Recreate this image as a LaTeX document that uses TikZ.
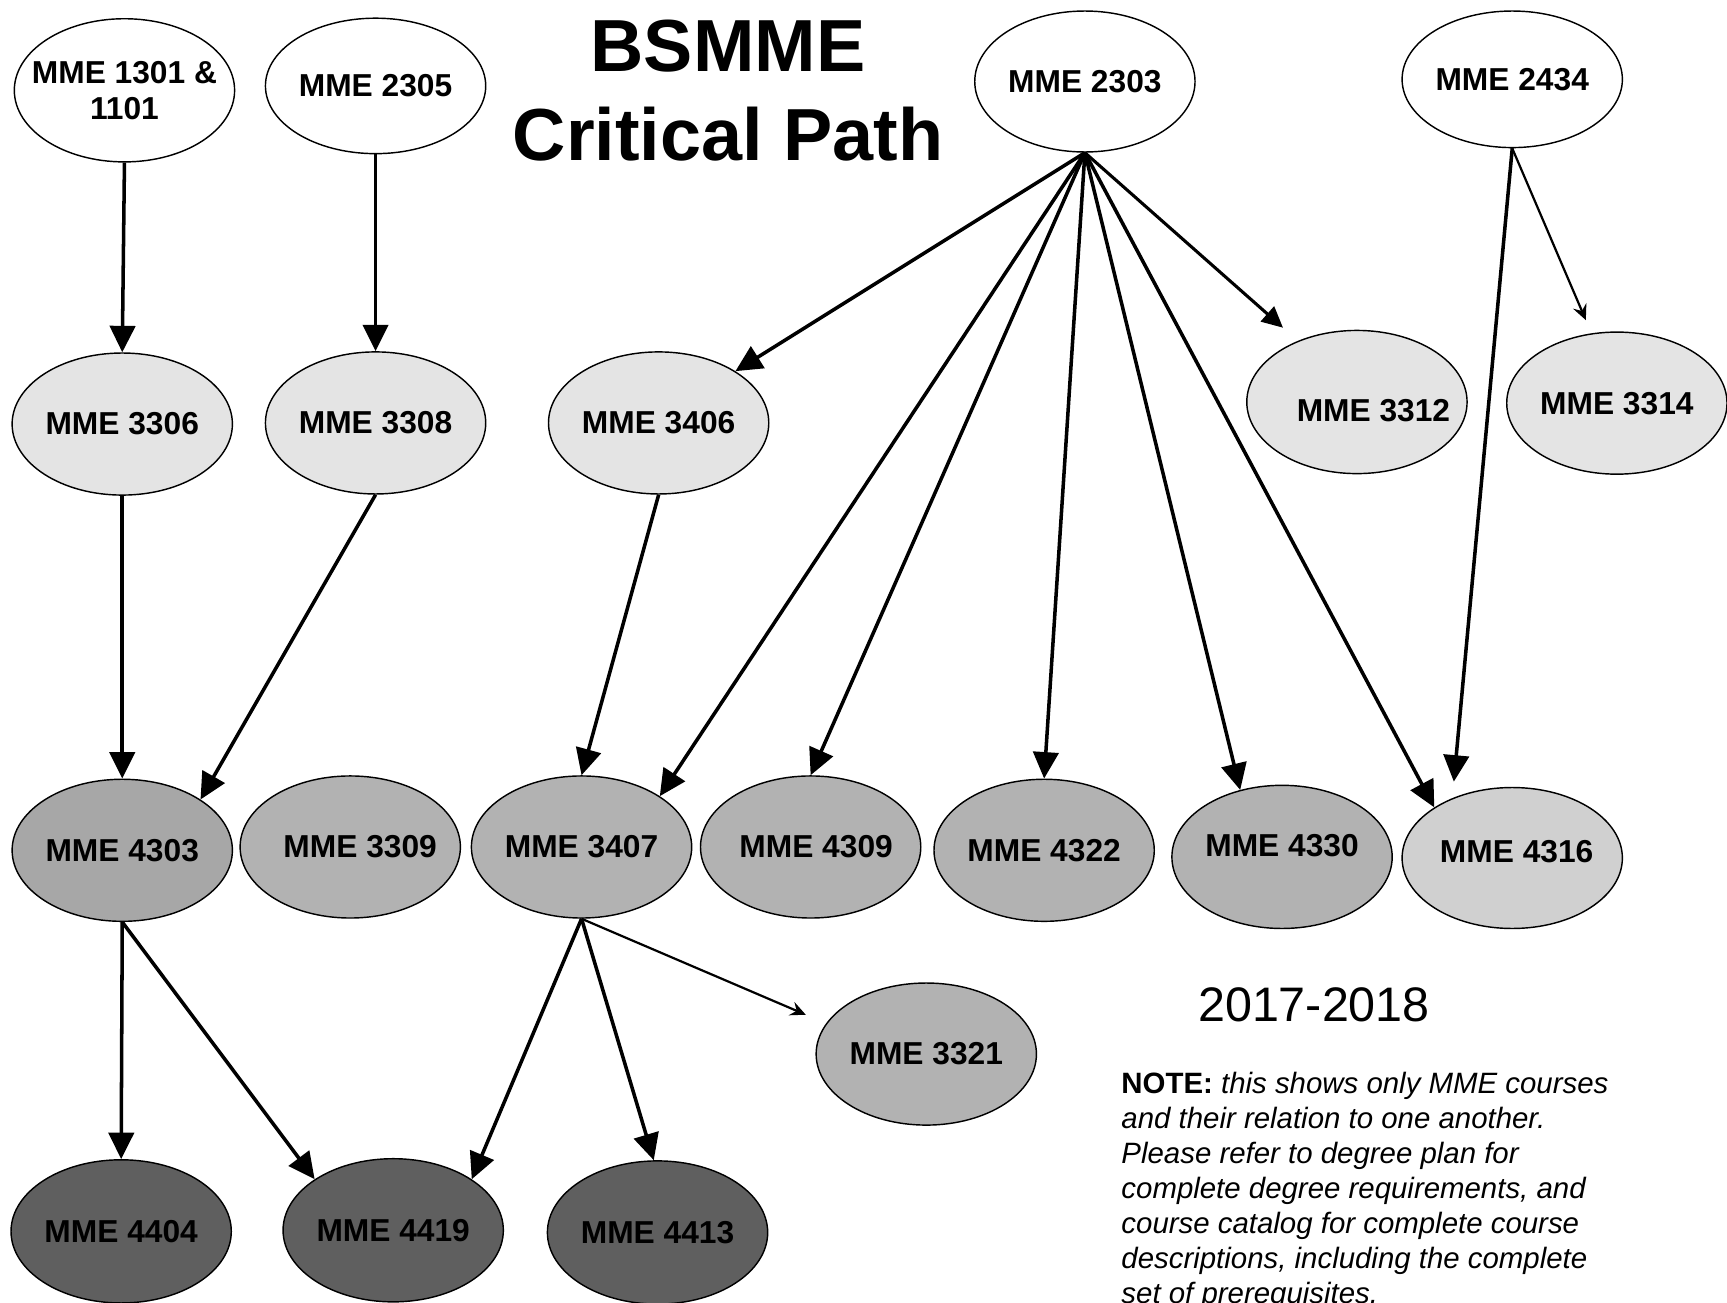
\documentclass[tikz,border=0pt]{standalone}
\usepackage{fontspec}
\setmainfont{Liberation Sans}
\usetikzlibrary{arrows.meta}
\usetikzlibrary{shapes.geometric}
\usetikzlibrary{positioning}

\definecolor{lightfill}{gray}{0.894}
\definecolor{palefill}{gray}{0.816}
\definecolor{midfill}{gray}{0.70}
\definecolor{deepfill}{gray}{0.655}
\definecolor{darkfill}{gray}{0.373}

\begin{document}
\begin{tikzpicture}[x=1pt,y=-1pt,>={Triangle[length=24pt,width=23pt]},
    course node/.style={ellipse,draw,line width=1.3pt,minimum width=200pt,minimum height=129pt,inner sep=0pt,
      font=\fontsize{28.8}{33}\selectfont\bfseries,align=center},
    big arrow/.style={->,line width=3.2pt},
    mid arrow/.style={->,line width=2.8pt,>={Triangle[length=19pt,width=18pt]}},
    thin arrow/.style={->,line width=2pt,>={Stealth[length=14pt,width=13pt,inset=5pt]}}]
  \clip (0,0) rectangle (1568,1183);
  \fill[white] (0,0) rectangle (1568,1183);

  % title
  \node[font=\fontsize{67}{81}\selectfont\bfseries,align=center] (title) at (661,82) {BSMME\\Critical Path};

  % first row
  \node[course node,fill=white,minimum height=130pt] (m1301) at (113,82) {\makebox[120pt]{MME 1301 \&}\\1101};
  \node[course node,fill=white,minimum height=123pt] (m2305) at (341,78) {MME 2305};
  \node[course node,fill=white,minimum height=128pt] (m2303) at (985,74) {MME 2303};
  \node[course node,fill=white,minimum height=124pt] (m2434) at (1373,72) {MME 2434};

  % second row
  \node[course node,fill=lightfill] (m3306) at (111,385) {MME 3306};
  \node[course node,fill=lightfill] (m3308) at (341,384) {MME 3308};
  \node[course node,fill=lightfill] (m3406) at (598,384) {MME 3406};
  \node[course node,fill=lightfill,minimum height=130pt] (m3312) at (1232,365) {\makebox[120pt]{\hspace*{30pt}\rule{0pt}{36pt}MME 3312}};
  \node[course node,fill=lightfill] (m3314) at (1468,366) {MME 3314};

  % third row
  \node[course node,fill=deepfill] (m4303) at (111,772) {MME 4303};
  \node[course node,fill=midfill] (m3309) at (318,769) {\makebox[120pt]{\hspace*{18pt}MME 3309}};
  \node[course node,fill=midfill] (m3407) at (528,769) {MME 3407};
  \node[course node,fill=midfill] (m4309) at (736,769) {\makebox[120pt]{\hspace*{10pt}MME 4309}};
  \node[course node,fill=midfill] (m4322) at (948,772) {MME 4322};
  \node[course node,fill=midfill,minimum height=130pt] (m4330) at (1164,778) {\raisebox{20pt}{MME 4330}};
  \node[course node,fill=palefill,minimum height=128pt] (m4316) at (1373,779) {\makebox[120pt]{\hspace*{8pt}\raisebox{12pt}{MME 4316}}};
  \node[course node,fill=midfill] (m3321) at (841,957) {MME 3321};

  % last row
  \node[course node,fill=darkfill,minimum height=130pt] (m4404) at (110,1118) {MME 4404};
  \node[course node,fill=darkfill,minimum height=130pt] (m4419) at (357,1117) {MME 4419};
  \node[course node,fill=darkfill,minimum height=130pt] (m4413) at (597,1119) {MME 4413};

  % year and note
  \node[font=\fontsize{44}{50}\selectfont] (year) at (1193,912) {2017-2018};
  \node[anchor=north west,align=left,inner sep=0pt,font=\fontsize{26.7}{31.8}\selectfont\itshape] (note) at (1018,973)
    {{\bfseries\upshape NOTE:} this shows only MME courses\\
     and their relation to one another.\\
     Please refer to degree plan for\\
     complete degree requirements, and\\
     course catalog for complete course\\
     descriptions, including the complete\\
     set of prerequisites.};

  % prerequisites
  \path[big arrow] (m1301.south) edge (m3306.north)
    (m2305.south) edge (m3308.north)
    (m2303.south) edge (m3406.34)
    (m2303.south) edge (m3407.33)
    (m2303.south) edge (m4309.north)
    (m2303.south) edge (m4322.north)
    (m2303.south) edge (m4330.122)
    (m2303.south) edge (m4316.147)
    (m2434.south) edge[shorten >=15pt] (m4316.135)
    (m3306.south) edge (m4303.north)
    (m3308.south) edge (m4303.33)
    (m3406.south) edge (m3407.north)
    (m4303.south) edge (m4404.north)
    (m4303.south) edge (m4419.147)
    (m3407.south) edge (m4419.33)
    (m3407.south) edge (m4413.93);
  \path[mid arrow] (m2303.south) edge[shorten >=18pt] (m3312.134);
  \path[thin arrow] (m2434.south) edge[shorten >=13pt] (m3314.110)
    (m3407.south) edge[shorten >=20pt] (m3321.163);
\end{tikzpicture}
\end{document}
